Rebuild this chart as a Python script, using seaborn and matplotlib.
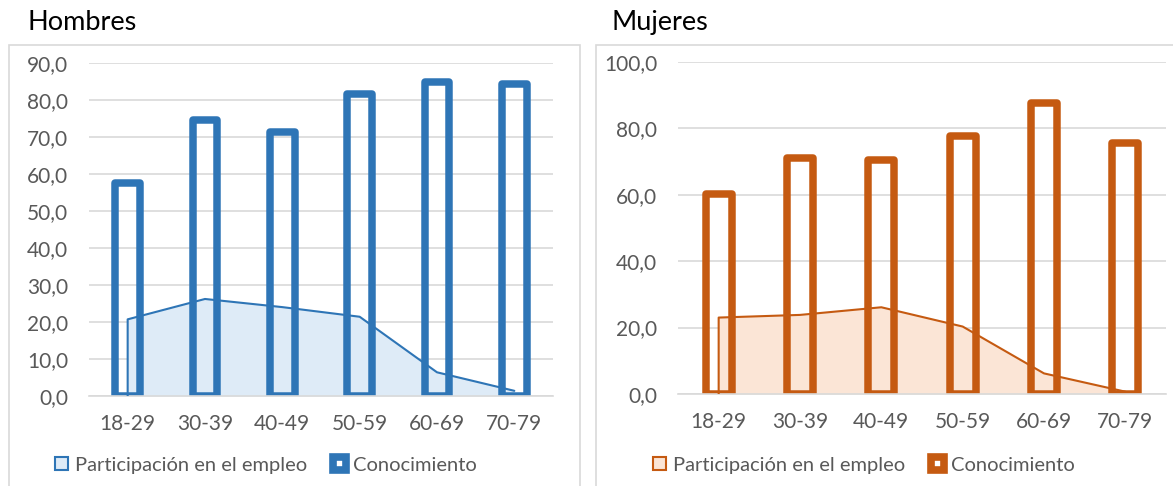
import numpy as np
import matplotlib.pyplot as plt
import seaborn as sns
from matplotlib.patches import Patch, Rectangle

# Grupos de edad y valores
grupos = ['18-29', '30-39', '40-49', '50-59', '60-69', '70-79']

conoc_h = [57.4, 74.6, 71.3, 81.5, 84.8, 84.2]
empleo_h = [20.7, 26.2, 24.0, 21.4, 6.4, 1.4]

conoc_m = [60.3, 71.1, 70.4, 77.7, 87.6, 75.6]
empleo_m = [23.0, 23.8, 26.1, 20.3, 6.2, 0.7]

ticks_h = [0, 10, 20, 30, 40, 50, 60, 70, 80, 90]
ticks_m = [0, 20, 40, 60, 80, 100]

sns.set_style('white')
plt.rcParams['font.family'] = ['Lato', 'DejaVu Sans']

GRID = '#D9D9D9'
TXT = '#595959'
W, H = 1173, 486


def draw_panel(ax, conoc, empleo, ticks, color, light):
    sns.barplot(x=grupos, y=conoc, ax=ax, color=color, saturation=1,
                width=0.32, errorbar=None)
    for p in ax.patches:
        p.set_facecolor('none')
        p.set_edgecolor(color)
        p.set_linewidth(5.4)
        p.set_joinstyle('round')
        p.set_zorder(2)

    x = np.arange(len(grupos))
    ax.fill_between(x, empleo, color=light, lw=0, zorder=1)
    ax.plot(np.r_[x[0], x], np.r_[0, empleo], color=color, lw=1.5, zorder=3)

    ax.set_ylim(ticks[0], ticks[-1])
    ax.set_xlim(-0.5, len(grupos) - 0.5)
    ax.set_yticks(ticks)
    ax.set_yticklabels([f'{t:.1f}'.replace('.', ',') for t in ticks])
    ax.yaxis.grid(True, color=GRID, lw=1.2)
    ax.set_axisbelow(True)
    sns.despine(ax=ax, left=True)
    ax.spines['bottom'].set_color(GRID)
    ax.spines['bottom'].set_linewidth(1.2)
    ax.tick_params(axis='both', length=0, labelcolor=TXT, labelsize=15)
    ax.tick_params(axis='y', pad=15)
    ax.tick_params(axis='x', pad=13)
    ax.set_xlabel('')
    ax.set_ylabel('')


fig = plt.figure(figsize=(W / 100, H / 100), dpi=100)

# marcos de cada grafico
fig.patches.append(Rectangle((9 / W, -0.1), 571 / W, (H - 45) / H + 0.1,
                             transform=fig.transFigure, fill=False,
                             edgecolor=GRID, lw=1.2))
fig.patches.append(Rectangle((596 / W, -0.1), 0.6, (H - 45) / H + 0.1,
                             transform=fig.transFigure, fill=False,
                             edgecolor=GRID, lw=1.2))

ax1 = fig.add_axes([89 / W, 90 / H, 464 / W, 333.3 / H])
ax2 = fig.add_axes([678 / W, 92 / H, 488 / W, 332.3 / H])

blue, blue_l = '#2E75B6', '#DEEBF7'
orange, orange_l = '#C55A11', '#FBE5D6'

draw_panel(ax1, conoc_h, empleo_h, ticks_h, blue, blue_l)
draw_panel(ax2, conoc_m, empleo_m, ticks_m, orange, orange_l)

fig.text(28 / W, 1 - 30 / H, 'Hombres', fontsize=19.5, color='black', va='baseline')
fig.text(612 / W, 1 - 30 / H, 'Mujeres', fontsize=19.5, color='black', va='baseline')

for cx, color, light in [(266, blue, blue_l), (864, orange, orange_l)]:
    handles = [Patch(facecolor=light, edgecolor=color, lw=1.5),
               Patch(facecolor='white', edgecolor=color, lw=5.5, joinstyle='round')]
    fig.legend(handles, ['Participación en el empleo', 'Conocimiento'],
               loc='center', bbox_to_anchor=(cx / W, 1 - 465 / H), ncol=2,
               frameon=False, fontsize=14.5, labelcolor=TXT,
               handlelength=0.65, handleheight=0.65, handletextpad=0.35,
               columnspacing=1.3)

fig.savefig('out.png', dpi=100)
